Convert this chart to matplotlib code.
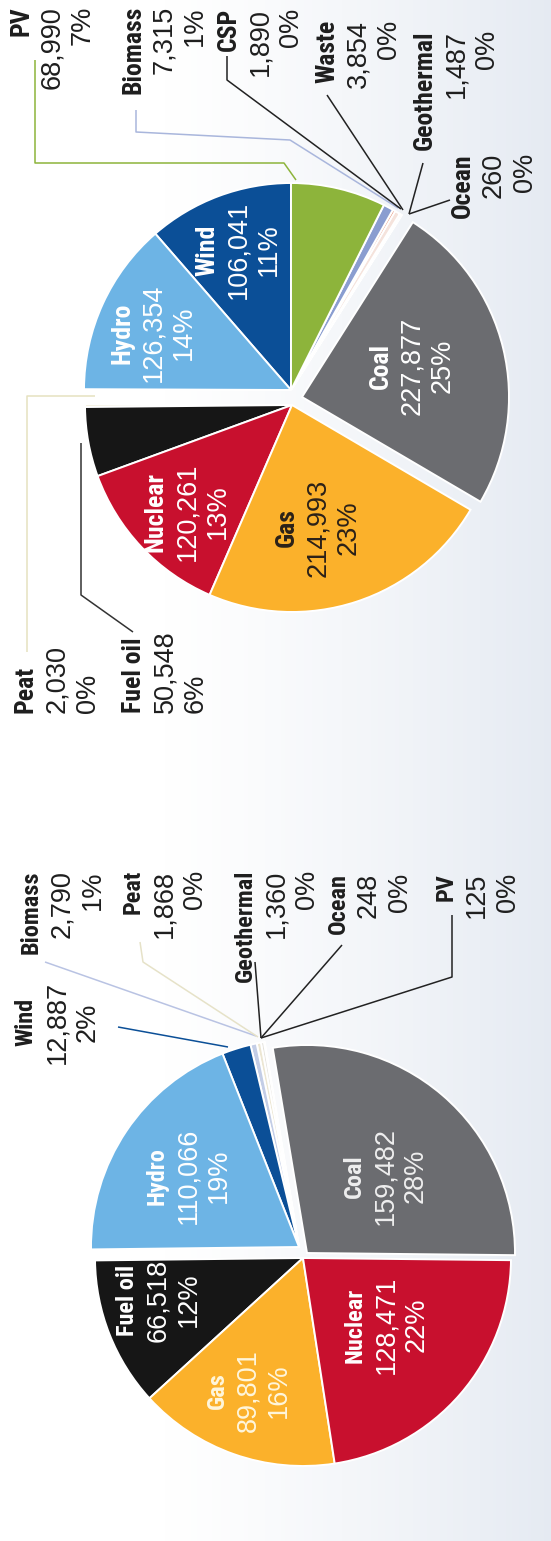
import matplotlib
matplotlib.use("Agg")
import matplotlib.pyplot as plt
from matplotlib import font_manager
import numpy as np

W, H = 551, 1541

# ---- data -------------------------------------------------------------
top_names = ["Wind", "Hydro", "Peat", "Fuel oil", "Nuclear", "Gas", "Coal",
             "Ocean", "Geothermal", "Waste", "CSP", "Biomass", "PV"]
top_values = [106041, 126354, 2030, 50548, 120261, 214993, 227877,
              260, 1487, 3854, 1890, 7315, 68990]
top_shares = ["11%", "14%", "0%", "6%", "13%", "23%", "25%",
              "0%", "0%", "0%", "0%", "1%", "7%"]

bottom_names = ["Coal", "PV", "Ocean", "Geothermal", "Peat", "Biomass",
                "Wind", "Hydro", "Fuel oil", "Gas", "Nuclear"]
bottom_values = [159482, 125, 248, 1360, 1868, 2790,
                 12887, 110066, 66518, 89801, 128471]
bottom_shares = ["28%", "0%", "0%", "0%", "0%", "1%",
                 "2%", "19%", "12%", "16%", "22%"]

# ---- styling ------------------------------------------------------------
top_colors = {"Coal": "#6b6c70", "Gas": "#fbb12b", "Nuclear": "#c8102e",
              "Fuel oil": "#161616", "Hydro": "#6db4e5", "Wind": "#0b4f97",
              "PV": "#8db43b", "Biomass": "#8a9dd0", "CSP": "#e58a6d",
              "Waste": "#f5e3dc", "Geothermal": "#efeae2", "Ocean": "#dfe5ef",
              "Peat": "#f3efdc"}
bottom_colors = dict(top_colors, Biomass="#c3cde6", Peat="#ece6d2",
                     Geothermal="#e4e2dc", Ocean="#e8ebf0")

available = {f.name for f in font_manager.fontManager.ttflist}
if "Liberation Sans Narrow" in available:
    NAME_FAMILY, NAME_SCALE = "Liberation Sans Narrow", 1.0
elif "Roboto Condensed" in available:
    NAME_FAMILY, NAME_SCALE = "Roboto Condensed", 1.0
else:
    NAME_FAMILY, NAME_SCALE = "Liberation Sans", 0.85
NUM_FONT = dict(family="Liberation Sans", weight="normal", size=19.5)

TEXT_DARK = "#1e1e1e"
LINE_STEP = 31  # px between stacked label lines

fig = plt.figure(figsize=(W / 100, H / 100), dpi=100)
ax = fig.add_axes([0, 0, 1, 1])

# soft background tint towards the right edge
xs = np.linspace(0, 1, 400)
ramp = np.clip((xs - 0.3) / 0.7, 0, 1) ** 1.2
left_c = np.array([1.0, 1.0, 1.0])
right_c = np.array([0.90, 0.92, 0.95])
row = left_c[None, :] * (1 - ramp[:, None]) + right_c[None, :] * ramp[:, None]
ax.imshow(row[None, :, :], extent=(0, W, 0, H), aspect="auto", zorder=0)


def Y(y):
    return H - y


def draw_pie(values, names, palette, center, radius, startangle, shifts):
    wedges, _ = ax.pie(values, colors=[palette[n] for n in names],
                       startangle=startangle, counterclock=True,
                       center=(center[0], Y(center[1])), radius=radius,
                       wedgeprops=dict(edgecolor="white", linewidth=1.4))
    for w, (dx, dy) in zip(wedges, shifts):
        cx, cy = w.center
        w.set_center((cx + dx, cy - dy))
        w.set_zorder(2)
    return wedges


def label_value(names, values, shares, name):
    i = names.index(name)
    return [name, f"{values[i]:,}", shares[i]]


def stacked(first_x, y, lines, anchor="top", color=TEXT_DARK, name_size=18.5,
            step=LINE_STEP):
    ha = {"top": "right", "bottom": "left", "center": "center"}[anchor]
    for k, line in enumerate(lines):
        if k == 0:
            font = dict(family=NAME_FAMILY, weight="bold",
                        size=name_size * NAME_SCALE)
        else:
            font = NUM_FONT
        ax.text(first_x + k * step, Y(y), line, rotation=90,
                rotation_mode="anchor", ha=ha, va="center", color=color,
                zorder=5, **font)


def leader(points, color, lw=1.1):
    px = [p[0] for p in points]
    py = [Y(p[1]) for p in points]
    ax.plot(px, py, color=color, lw=lw, solid_capstyle="butt", zorder=3)


# ---- upper pie ----------------------------------------------------------
A, B, C = (-1, -8), (0, 7), (10, -1)
top_shift = [A, A, B, B, B, B, C, A, A, A, A, A, A]
draw_pie(top_values, top_names, top_colors, (292, 398), 207, 90, top_shift)

inner_top = {"Hydro": ((153, 333), "white"), "Wind": ((238, 250), "white"),
             "Nuclear": ((187, 512), "white"), "Gas": ((318, 528), "#2b2118"),
             "Coal": ((412, 366), "white")}
for nm, ((cx, cy), col) in inner_top.items():
    stacked(cx - LINE_STEP, cy, label_value(top_names, top_values, top_shares, nm),
            anchor="center", color=col)

outer_top = {"PV": (21, 6, "top"), "Biomass": (133, 6, "top"),
             "CSP": (229, 8, "top"), "Waste": (327, 20, "top"),
             "Geothermal": (425, 30, "top"), "Ocean": (463, 153, "top"),
             "Peat": (26, 713, "bottom"), "Fuel oil": (134, 713, "bottom")}
for nm, (x0, y0, anc) in outer_top.items():
    stacked(x0, y0, label_value(top_names, top_values, top_shares, nm), anchor=anc)

leader([(35, 60), (35, 163), (284, 163), (296, 180)], "#8db43b")
leader([(136, 110), (136, 132), (290, 140), (398, 208)], "#a9b6dc")
leader([(227, 56), (227, 80), (401, 209)], "#222222")
leader([(327, 95), (403, 210)], "#222222")
leader([(423, 163), (409, 214)], "#222222")
leader([(450, 200), (409, 214)], "#222222")
leader([(27, 652), (27, 396), (95, 396)], "#e6e2c0")
leader([(81, 443), (81, 595), (133, 632)], "#333333")

# ---- lower pie ----------------------------------------------------------
A, B, C = (-3, -4), (1, 7), (5, 2)
bottom_shift = [C, A, A, A, A, A, A, A, B, B, B]
draw_pie(bottom_values, bottom_names, bottom_colors, (302, 1251), 208, -0.6,
         bottom_shift)

inner_bottom = {"Hydro": ((188, 1176), "white"), "Coal": ((385, 1176), "#eeeeee"),
                "Fuel oil": ((158, 1300), "white"), "Gas": ((248, 1391), "#fff6dc"),
                "Nuclear": ((386, 1325), "white")}
for nm, ((cx, cy), col) in inner_bottom.items():
    stacked(cx - LINE_STEP, cy,
            label_value(bottom_names, bottom_values, bottom_shares, nm),
            anchor="center", color=col, name_size=17.5)

outer_bottom = {"Wind": (26, 1022, "center"), "Biomass": (31, 870, "top"),
                "Peat": (133, 870, "top"), "Geothermal": (245, 870, "top"),
                "Ocean": (338, 873, "top"), "PV": (446, 873, "top")}
for nm, (x0, y0, anc) in outer_bottom.items():
    stacked(x0, y0, label_value(bottom_names, bottom_values, bottom_shares, nm),
            anchor=anc, name_size=17.5)

leader([(118, 1027), (228, 1047)], "#0b4f97")
leader([(45, 962), (256, 1036)], "#b9c3e3")
leader([(140, 942), (143, 962), (258, 1037)], "#e6e2c8")
leader([(255, 962), (261, 1038)], "#222222")
leader([(342, 945), (261, 1038)], "#222222")
leader([(452, 915), (452, 977), (261, 1038)], "#222222")

ax.set_xlim(0, W)
ax.set_ylim(0, H)
ax.set_aspect("auto")
ax.axis("off")

fig.savefig("out.png", dpi=100)
